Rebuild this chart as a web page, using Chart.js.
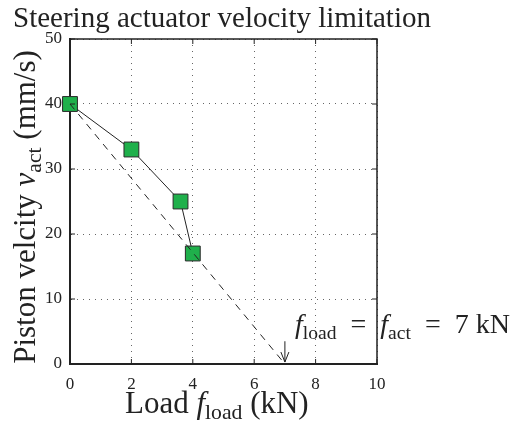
<!DOCTYPE html>
<html>
<head>
<meta charset="utf-8">
<script src="https://cdn.jsdelivr.net/npm/chart.js@4.4.0/dist/chart.umd.min.js"></script>
<style>
  body { margin: 0; background: #fff; }
  #wrap { width: 510px; height: 421px; position: relative; }
</style>
</head>
<body>
<div id="wrap"><canvas id="velocity-chart"></canvas></div>
<script>
// measured points (load kN, piston velocity mm/s)
const loadKN = [0, 2, 3.6, 4];
const velocity = [40, 33, 25, 17];
// linear limit line
const limitLoad = [0, 7];
const limitVel = [40, 0];
// arrow marking the limit force
const arrowLoad = 7;
const arrowVel = [3.5, 0.3];
const xTicks = [0, 2, 4, 6, 8, 10];
const yTicks = [0, 10, 20, 30, 40, 50];

const serif = "'Liberation Serif', 'Times New Roman', serif";
const ink = "#222";

// draw text with italic letters and subscripts, returns width
function richText(ctx, parts, x, y, size, measureOnly) {
  let cx = x;
  parts.forEach(p => {
    const s = p.sub ? size * 0.7 : size;
    ctx.font = (p.it ? "italic " : "") + s + "px " + serif;
    const w = ctx.measureText(p.t).width;
    if (!measureOnly) ctx.fillText(p.t, cx, y + (p.sub ? size * 0.2 : 0));
    cx += w;
  });
  return cx - x;
}

const decor = {
  id: 'decor',
  afterDraw(chart) {
    const ctx = chart.ctx;
    const a = chart.chartArea;
    const xs = chart.scales.x, ys = chart.scales.y;
    ctx.save();
    ctx.strokeStyle = ink;
    ctx.fillStyle = ink;

    // box top/right
    ctx.lineWidth = 1.5;
    ctx.beginPath();
    ctx.moveTo(a.left, a.top); ctx.lineTo(a.right, a.top); ctx.lineTo(a.right, a.bottom);
    ctx.stroke();

    // inward ticks
    ctx.lineWidth = 1;
    ctx.beginPath();
    xTicks.forEach(v => {
      const px = xs.getPixelForValue(v);
      ctx.moveTo(px, a.bottom); ctx.lineTo(px, a.bottom - 5);
      ctx.moveTo(px, a.top); ctx.lineTo(px, a.top + 5);
    });
    yTicks.forEach(v => {
      const py = ys.getPixelForValue(v);
      ctx.moveTo(a.left, py); ctx.lineTo(a.left + 5, py);
      ctx.moveTo(a.right, py); ctx.lineTo(a.right - 5, py);
    });
    ctx.stroke();

    // arrow
    const ax = xs.getPixelForValue(arrowLoad);
    const ay1 = ys.getPixelForValue(arrowVel[0]);
    const ay2 = ys.getPixelForValue(arrowVel[1]);
    ctx.beginPath();
    ctx.moveTo(ax, ay1); ctx.lineTo(ax, ay2);
    ctx.moveTo(ax - 4, ay2 - 10); ctx.lineTo(ax, ay2); ctx.lineTo(ax + 4, ay2 - 10);
    ctx.stroke();

    ctx.textBaseline = 'alphabetic';
    ctx.textAlign = 'left';

    // title
    ctx.font = "29px " + serif;
    ctx.fillText("Steering actuator velocity limitation", 13, 27);

    // annotation
    richText(ctx, [
      { t: "f", it: true }, { t: "load", sub: true }, { t: "\u2002=\u2002" },
      { t: "f", it: true }, { t: "act", sub: true }, { t: "\u2002=\u20027 kN" }
    ], 295, 333, 28);

    // x axis title
    richText(ctx, [
      { t: "Load " }, { t: "f", it: true }, { t: "load", sub: true }, { t: " (kN)" }
    ], 125, 413, 31);

    // y axis title
    const yParts = [
      { t: "Piston velcity " }, { t: "v", it: true }, { t: "act", sub: true }, { t: " (mm/s)" }
    ];
    const w = richText(ctx, yParts, 0, 0, 31, true);
    ctx.translate(35, 207);
    ctx.rotate(-Math.PI / 2);
    richText(ctx, yParts, -w / 2, 0, 31);
    ctx.restore();
  }
};

new Chart(document.getElementById("velocity-chart"), {
  type: 'scatter',
  data: {
    datasets: [
      {
        label: "Limit",
        data: limitLoad.map((x, i) => ({ x: x, y: limitVel[i] })),
        showLine: true,
        borderColor: ink,
        borderWidth: 1,
        borderDash: [7, 6],
        pointRadius: 0,
        clip: false
      },
      {
        label: "Measured",
        data: loadKN.map((x, i) => ({ x: x, y: velocity[i] })),
        showLine: true,
        borderColor: ink,
        borderWidth: 1,
        pointStyle: 'rect',
        pointRadius: 10.5,
        pointBackgroundColor: "#1fb04b",
        pointBorderColor: "#2a2a2a",
        pointBorderWidth: 1,
        clip: false
      }
    ]
  },
  options: {
    responsive: true,
    maintainAspectRatio: false,
    animation: false,
    layout: { padding: { left: 0, top: 39, right: 133, bottom: 0 } },
    plugins: {
      legend: { display: false },
      tooltip: { enabled: false }
    },
    scales: {
      x: {
        type: 'linear',
        min: 0, max: 10,
        afterFit(scale) { scale.height = 57; },
        afterBuildTicks(scale) { scale.ticks = xTicks.map(v => ({ value: v })); },
        ticks: { padding: 10, color: ink, font: { family: serif, size: 17 } },
        grid: { color: "#666", lineWidth: 1, drawTicks: false },
        border: { color: ink, width: 2, dash: [1, 5] }
      },
      y: {
        type: 'linear',
        min: 0, max: 50,
        afterFit(scale) { scale.width = 70; },
        afterBuildTicks(scale) { scale.ticks = yTicks.map(v => ({ value: v })); },
        ticks: { padding: 8, color: ink, font: { family: serif, size: 17 } },
        grid: { color: "#666", lineWidth: 1, drawTicks: false },
        border: { color: ink, width: 2, dash: [1, 5] }
      }
    }
  },
  plugins: [decor]
});
</script>
</body>
</html>
